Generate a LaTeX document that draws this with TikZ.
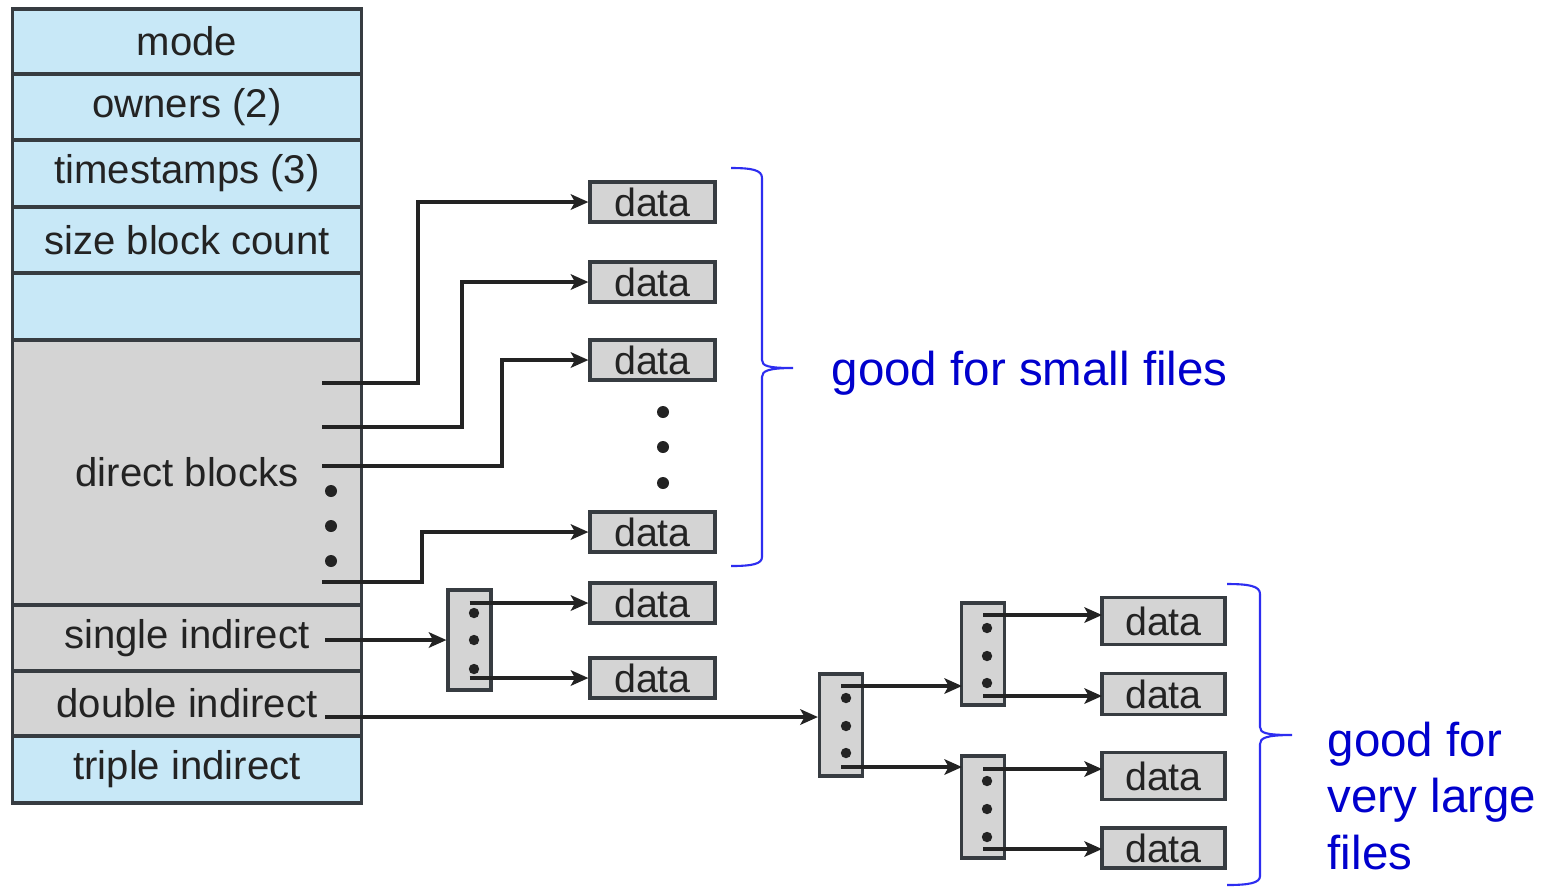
\documentclass[tikz,border=0pt]{standalone}
\usepackage{fontspec}
\setmainfont{Liberation Sans}
\usetikzlibrary{arrows.meta}
\definecolor{inodeblue}{RGB}{200,232,247}
\definecolor{blockgray}{RGB}{212,212,212}
\definecolor{edge}{RGB}{55,60,65}
\definecolor{ink}{RGB}{35,35,35}
\definecolor{noteblue}{RGB}{0,0,205}
\definecolor{bracecol}{RGB}{45,45,240}
\begin{document}
\begin{tikzpicture}[x=0.01cm,y=-0.01cm,
  cell/.style={draw=edge, line width=0.9pt, minimum width=3.48cm, inner sep=0pt,
    text=ink, font=\fontsize{11.4}{13.5}\selectfont},
  meta/.style={cell, fill=inodeblue},
  ptrcell/.style={cell, fill=blockgray},
  datablk/.style={draw=edge, fill=blockgray, line width=0.9pt, minimum width=1.25cm,
    minimum height=0.40cm, inner sep=0pt, text=ink, font=\fontsize{11.2}{13}\selectfont},
  idxblk/.style={draw=edge, fill=blockgray, line width=0.9pt, minimum width=0.43cm, inner sep=0pt},
  arr/.style={draw=ink, line width=0.9pt, -{Stealth[length=5pt,width=4.4pt,inset=1.2pt]}},
  dot/.style={fill=ink},
  note/.style={text=noteblue, font=\fontsize{13.5}{16.2}\selectfont, inner sep=0pt,
    anchor=west, align=left},
  brace/.style={draw=bracecol, line width=0.6pt}
]
\useasboundingbox[fill=white] (0,0) rectangle (1543,887);

% inode fields
\node[meta, minimum height=0.65cm] (mode) at (187,41.5) {mode};
\node[meta, minimum height=0.66cm] (owners) at (187,107) {owners (2)};
\node[meta, minimum height=0.67cm] (times) at (187,173.5) {timestamps (3)};
\node[meta, minimum height=0.66cm] (size) at (187,240) {size block count};
\node[meta, minimum height=0.67cm] (blank) at (187,306.5) {};
\node[ptrcell, minimum height=2.65cm] (direct) at (187,472.5) {direct blocks};
\node[ptrcell, minimum height=0.66cm] (single) at (187,638) {single indirect};
\node[ptrcell, minimum height=0.65cm] (double) at (187,703.5) {double indirect};
\node[meta, minimum height=0.67cm] (triple) at (187,769.5) {triple indirect};

% data blocks reached directly or through the single indirect block
\node[datablk] (d1) at (652.5,202) {data};
\node[datablk] (d2) at (652.5,282) {data};
\node[datablk] (d3) at (652.5,360) {data};
\node[datablk] (d4) at (652.5,532) {data};
\node[datablk] (d5) at (652.5,603) {data};
\node[datablk] (d6) at (652.5,678) {data};

% data blocks under the double indirect block
\node[datablk, minimum width=1.23cm, minimum height=0.47cm] (d7) at (1163.5,621) {data};
\node[datablk, minimum width=1.23cm, minimum height=0.41cm] (d8) at (1163.5,694) {data};
\node[datablk, minimum width=1.23cm, minimum height=0.47cm] (d9) at (1163.5,776) {data};
\node[datablk, minimum width=1.23cm, minimum height=0.40cm] (d10) at (1163.5,848) {data};

% index blocks
\node[idxblk, minimum height=1.00cm] (sind) at (469.5,640) {};
\node[idxblk, minimum height=1.02cm] (dbl) at (841,725) {};
\node[idxblk, minimum height=1.02cm] (ib1) at (983,654) {};
\node[idxblk, minimum height=1.02cm] (ib2) at (983,807) {};

% dots
\foreach \y in {491,526,561} \fill[dot] (331,\y) circle (0.06cm);
\foreach \y in {412,447,483} \fill[dot] (663,\y) circle (0.06cm);
\foreach \y in {613,640,669} \fill[dot] (474,\y) circle (0.052cm);
\foreach \y in {698,726,753} \fill[dot] (846,\y) circle (0.052cm);
\foreach \y in {628,656,683} \fill[dot] (987,\y) circle (0.052cm);
\foreach \y in {781,809,837} \fill[dot] (987,\y) circle (0.052cm);

% direct pointers
\coordinate (p1) at (322,383);
\coordinate (p2) at (322,427);
\coordinate (p3) at (322,466);
\coordinate (p4) at (322,582);
\draw[arr] (p1) -- (418,383) |- (d1.west);
\draw[arr] (p2) -- (462,427) |- (d2.west);
\draw[arr] (p3) -- (502,466) |- (d3.west);
\draw[arr] (p4) -- (422,582) |- (d4.west);

% single indirect
\coordinate (s0) at (325,640);
\draw[arr] (s0) -- (sind.west);
\draw[arr] (sind.center |- d5.west) -- (d5.west);
\draw[arr] (sind.center |- d6.west) -- (d6.west);

% double indirect
\coordinate (dd0) at (325,717);
\draw[arr] (dd0) -- (dbl.west |- dd0);
\coordinate (ib1in) at (962,686);
\coordinate (ib2in) at (962,767);
\draw[arr] (dbl.center |- ib1in) -- (ib1in);
\draw[arr] (dbl.center |- ib2in) -- (ib2in);
\coordinate (e7) at (1102,615);
\coordinate (e8) at (1102,696);
\coordinate (e9) at (1102,769);
\coordinate (e10) at (1102,849);
\draw[arr] (ib1.center |- e7) -- (e7);
\draw[arr] (ib1.center |- e8) -- (e8);
\draw[arr] (ib2.center |- e9) -- (e9);
\draw[arr] (ib2.center |- e10) -- (e10);

% braces
\draw[brace] (731,168) .. controls (752,168) and (762,170) .. (762,178) -- (762,360)
  .. controls (762,366) and (768,368) .. (793,368)
  .. controls (768,368) and (762,371) .. (762,377) -- (762,557)
  .. controls (762,564) and (752,566) .. (731,566);
\draw[brace] (1227,584) .. controls (1249,584) and (1260,586) .. (1260,594) -- (1260,727)
  .. controls (1260,733) and (1266,735) .. (1292,735)
  .. controls (1266,735) and (1260,738) .. (1260,744) -- (1260,876)
  .. controls (1260,883) and (1249,885) .. (1227,885);

% annotations
\node[note] (small) at (831,373) {good for small files};
\node[note] (large) at (1327,796) {good for\\very large\\files};
\end{tikzpicture}
\end{document}
